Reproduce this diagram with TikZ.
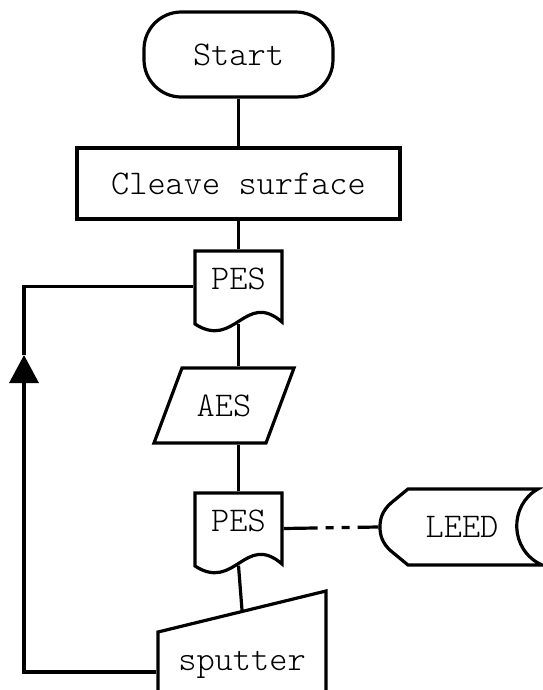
\documentclass[tikz,border=0pt]{standalone}
\usepackage{fontspec}
\setmonofont{Latin Modern Mono Light}
\usetikzlibrary{arrows.meta,calc}
\begin{document}
\begin{tikzpicture}[x=0.75pt,y=-0.75pt,line width=2.4pt,
  every node/.style={font=\ttfamily\fontsize{26}{30}\selectfont,inner sep=0pt},
  docnode/.style={minimum width=65.25pt,minimum height=53.25pt},
  dashdot/.style={dash pattern=on 25.5pt off 6pt on 6pt off 6pt on 6pt off 6pt on 30pt},
  uparrow/.style={-{Triangle[length=21pt,width=21.75pt]}}]
\useasboundingbox (0,0) rectangle (543,690);
% Start
\node[draw,rounded corners=28pt,minimum width=141.75pt,minimum height=63.75pt] (start) at (238.5,54.5) {Start};
% Cleave surface
\node[draw,minimum width=242.25pt,minimum height=53.25pt] (cleave) at (238.5,183.5) {Cleave surface};
% PES 1
\node[docnode] (pes1) at (238.5,286.5) {\raisebox{5.6pt}[\height][\depth]{PES}};
\draw (195,251) -- (195,324) .. controls (235,350) and (245,290) .. (282,322) -- (282,251) -- cycle;
% AES
\node[minimum width=83.25pt,minimum height=56.25pt] (aes) at (224,405.5) {AES};
\draw (182,368) -- (294,368) -- (266,443) -- (154,443) -- cycle;
% PES 2
\node[docnode] (pes2) at (238.5,528.5) {\raisebox{5.6pt}[\height][\depth]{PES}};
\draw (195,493) -- (195,566) .. controls (235,592) and (245,532) .. (282,564) -- (282,493) -- cycle;
% LEED
\node[minimum width=123pt,minimum height=57pt] (leed) at (462,527) {LEED};
\draw (408,489) -- (538,489) .. controls (509,505) and (509,550) .. (542,565) -- (408,565) -- (391,551) .. controls (382,543) and (380,535) .. (380,527) .. controls (380,519) and (382,511) .. (391,503) -- cycle;
% sputter
\node[minimum width=126pt,minimum height=90.6pt] (sputter) at (242,672) {\raisebox{5.6pt}[\height][\depth]{sputter}};
\draw (158,632) -- (326,591) -- (326,700) -- (158,700) -- cycle;
% connectors
\draw (start.south) -- (cleave.north);
\draw (cleave.south) -- (pes1.north);
\draw (pes1.south) -- (pes1.south |- aes.north);
\draw (pes2.north |- aes.south) -- (pes2.north);
\draw (pes2.south) -- (sputter.north);
\draw[dashdot] (pes2.east) -- (leed.west);
\coordinate (tip) at (24,355);
\draw[uparrow] (sputter.west) -| (tip);
\draw (tip) |- (pes1.west);
\end{tikzpicture}
\end{document}
